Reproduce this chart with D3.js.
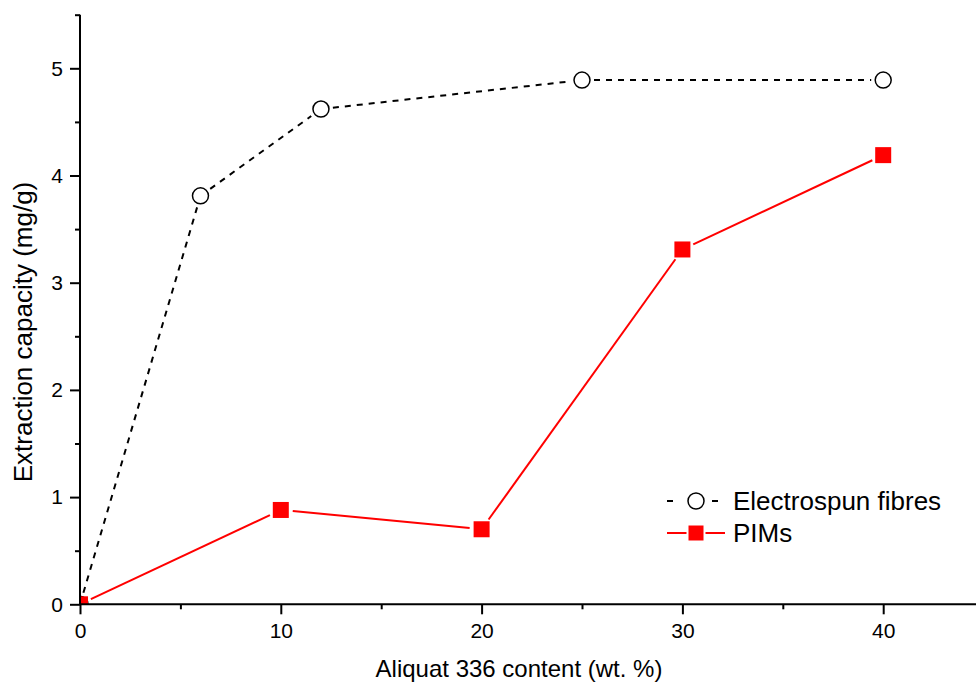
<!DOCTYPE html>
<html>
<head>
<meta charset="utf-8">
<script src="https://cdn.jsdelivr.net/npm/d3@7"></script>
<style>
  html, body { margin: 0; padding: 0; background: #fff; }
  svg { display: block; font-family: Arial, "Liberation Sans", sans-serif; }
</style>
</head>
<body>
<svg id="chart" width="976" height="684"></svg>
<script>
// Aliquat 336 content (wt. %) and extraction capacity (mg/g)
const fibreContent = [0, 6, 12, 25, 40];
const fibreCapacity = [0, 3.81, 4.62, 4.89, 4.89];
const pimContent = [0, 10, 20, 30, 40];
const pimCapacity = [0, 0.88, 0.70, 3.31, 4.19];
const xMajorTicks = [0, 10, 20, 30, 40];
const xMinorTicks = [5, 15, 25, 35, 45];
const yMajorTicks = [0, 1, 2, 3, 4, 5];
const yMinorTicks = [0.5, 1.5, 2.5, 3.5, 4.5, 5.5];
const seriesNames = ["Electrospun fibres", "PIMs"];

const svg = d3.select("#chart");
const x = d3.scaleLinear().domain([0, 45]).range([80, 983.6]);
const y = d3.scaleLinear().domain([0, 5.5]).range([604.3, 14.7]);

// clip region for the plotted data
svg.append("defs").append("clipPath").attr("id", "plotClip")
  .append("rect").attr("x", x(0)).attr("y", 0)
  .attr("width", 976 - x(0)).attr("height", y(0));

const plot = svg.append("g").attr("clip-path", "url(#plotClip)");

function pts(xs, ys) { return xs.map((v, i) => [x(v), y(ys[i])]); }

// draw a polyline in segments, leaving a gap around each marker
function gappedLine(g, points, gap, style) {
  for (let i = 0; i < points.length - 1; i++) {
    const [x0, y0] = points[i], [x1, y1] = points[i + 1];
    const dx = x1 - x0, dy = y1 - y0, len = Math.hypot(dx, dy);
    const ux = dx / len, uy = dy / len;
    const seg = g.append("line")
      .attr("x1", x0 + ux * gap).attr("y1", y0 + uy * gap)
      .attr("x2", x1 - ux * gap).attr("y2", y1 - uy * gap)
      .attr("stroke", style.color).attr("stroke-width", style.width)
      .attr("fill", "none");
    if (style.dash) seg.attr("stroke-dasharray", style.dash);
  }
}

const fibrePts = pts(fibreContent, fibreCapacity);
const pimPts = pts(pimContent, pimCapacity);

gappedLine(plot, fibrePts, 12, { color: "#000", width: 2, dash: "6,6" });
gappedLine(plot, pimPts, 12, { color: "#ff0000", width: 2 });

plot.selectAll("circle.fibre").data(fibrePts).enter().append("circle")
  .attr("class", "fibre")
  .attr("cx", d => d[0]).attr("cy", d => d[1]).attr("r", 8)
  .attr("fill", "#fff").attr("stroke", "#000").attr("stroke-width", 1.5);

const sq = 16;
plot.selectAll("rect.pim").data(pimPts).enter().append("rect")
  .attr("class", "pim")
  .attr("x", d => d[0] - sq / 2).attr("y", d => d[1] - sq / 2)
  .attr("width", sq).attr("height", sq)
  .attr("fill", "#ff0000");

// axes
const axisColor = "#000";
const gx = svg.append("g").attr("transform", `translate(0,${y(0)})`);
gx.call(d3.axisBottom(x).tickValues(xMajorTicks).tickSize(10).tickPadding(9).tickFormat(d3.format("d")));
const gxMinor = svg.append("g").attr("transform", `translate(0,${y(0)})`);
gxMinor.call(d3.axisBottom(x).tickValues(xMinorTicks).tickSize(5).tickFormat(""));

const gy = svg.append("g").attr("transform", `translate(${x(0)},0)`);
gy.call(d3.axisLeft(y).tickValues(yMajorTicks).tickSize(10).tickPadding(7).tickFormat(d3.format("d")));
const gyMinor = svg.append("g").attr("transform", `translate(${x(0)},0)`);
gyMinor.call(d3.axisLeft(y).tickValues(yMinorTicks).tickSize(5).tickFormat(""));

[gx, gxMinor, gy, gyMinor].forEach(g => {
  g.select(".domain").attr("stroke", axisColor).attr("stroke-width", 2);
  g.selectAll(".tick line").attr("stroke", axisColor).attr("stroke-width", 2);
  g.selectAll(".tick text").attr("fill", "#000").style("font-size", "21px")
    .style("font-family", "Arial, 'Liberation Sans', sans-serif");
});
gxMinor.select(".domain").remove();
gyMinor.select(".domain").remove();
// extend the x axis line to the right edge
gx.select(".domain").attr("d", `M${x(0)},0H976`);
gy.select(".domain").attr("d", `M0,${y(0)}V${y(5.5)}`);

// axis titles
svg.append("text")
  .attr("x", 519).attr("y", 677)
  .attr("text-anchor", "middle")
  .style("font-size", "24px")
  .text("Aliquat 336 content (wt. %)");
svg.append("text")
  .attr("transform", "translate(32,332) rotate(-90)")
  .attr("text-anchor", "middle")
  .style("font-size", "26px")
  .text("Extraction capacity (mg/g)");

// legend
const legend = svg.append("g");
const lx = 667, ly1 = 501, ly2 = 533;
legend.append("line").attr("x1", lx).attr("x2", lx + 6).attr("y1", ly1).attr("y2", ly1)
  .attr("stroke", "#000").attr("stroke-width", 2);
legend.append("line").attr("x1", lx + 45).attr("x2", lx + 51).attr("y1", ly1).attr("y2", ly1)
  .attr("stroke", "#000").attr("stroke-width", 2);
legend.append("circle").attr("cx", lx + 29).attr("cy", ly1).attr("r", 8)
  .attr("fill", "#fff").attr("stroke", "#000").attr("stroke-width", 1.5);
legend.append("line").attr("x1", lx).attr("x2", lx + 58).attr("y1", ly2).attr("y2", ly2)
  .attr("stroke", "#ff0000").attr("stroke-width", 2);
legend.append("rect").attr("x", lx + 29 - 8.5).attr("y", ly2 - 8.5).attr("width", 17).attr("height", 17)
  .attr("fill", "#ff0000").attr("stroke", "#fff").attr("stroke-width", 2);
legend.selectAll("text.leg").data(seriesNames).enter().append("text")
  .attr("class", "leg")
  .attr("x", 733).attr("y", (d, i) => (i === 0 ? ly1 : ly2) + 9)
  .style("font-size", "26px")
  .text(d => d);
</script>
</body>
</html>
